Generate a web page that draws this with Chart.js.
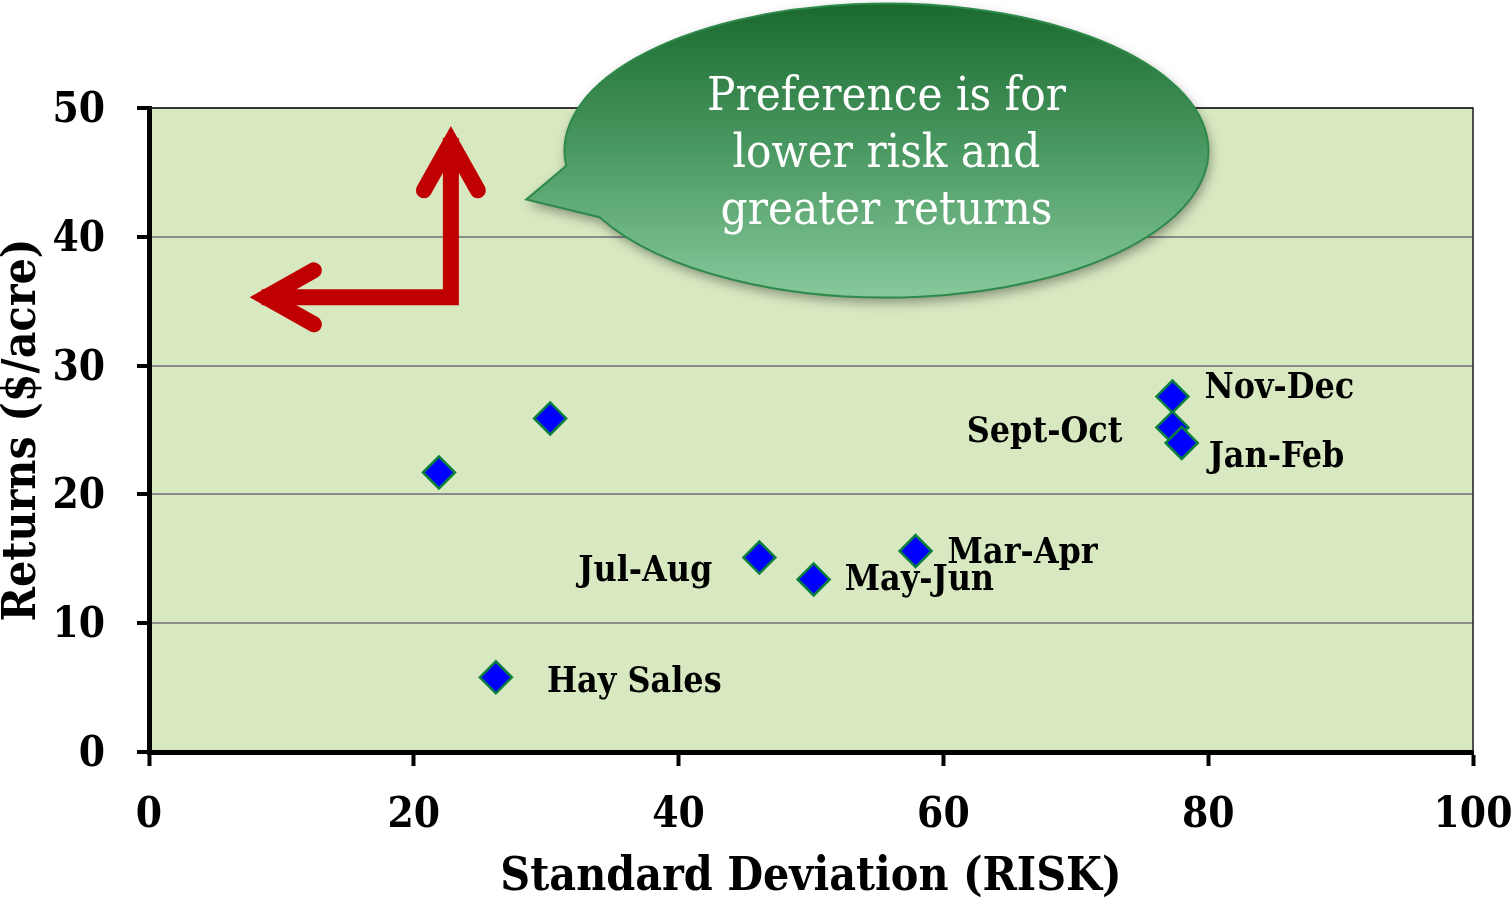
<!DOCTYPE html>
<html>
<head>
<meta charset="utf-8">
<title>Risk vs Returns</title>
<script src="https://cdn.jsdelivr.net/npm/chart.js@4.4.1/dist/chart.umd.min.js"></script>
<style>
  html, body { margin: 0; padding: 0; background: #ffffff; overflow: hidden; }
  #wrap { width: 1512px; height: 901px; position: relative; }
  canvas { display: block; }
</style>
</head>
<body>
<div id="wrap"><canvas id="chart" width="1512" height="901"></canvas></div>
<script>
// ---- data ----
const pointNames = ['', '', 'Hay Sales', 'Jul-Aug', 'May-Jun', 'Mar-Apr', 'Nov-Dec', 'Sept-Oct', 'Jan-Feb'];
const riskSD = [21.9, 30.3, 26.2, 46.1, 50.2, 57.9, 77.3, 77.3, 78.0];
const returnsPerAcre = [21.7, 25.9, 5.8, 15.1, 13.4, 15.6, 27.6, 25.2, 24.0];
const xTickValues = [0, 20, 40, 60, 80, 100];
const yTickValues = [0, 10, 20, 30, 40, 50];
const xAxisTitle = 'Standard Deviation (RISK)';
const yAxisTitle = 'Returns ($/acre)';
const calloutLines = ['Preference is for', 'lower risk and', 'greater returns'];

// ---- label placement next to each marker (side, horizontal gap, baseline shift in px) ----
const labelPlacement = [
  null, null,
  { side: 'right', dx: 51, dy: 15 },
  { side: 'left',  dx: 47, dy: 23 },
  { side: 'right', dx: 31, dy: 11 },
  { side: 'right', dx: 32, dy: 12 },
  { side: 'right', dx: 32, dy: 1 },
  { side: 'left',  dx: 50, dy: 15 },
  { side: 'right', dx: 27, dy: 24 }
];

// ---- annotation geometry in data units ----
const arrowCorner = { x: 22.8, y: 35.3 };
const arrowUpTipY = 48.6;
const arrowLeftTipX = 7.6;
const calloutCenter = { x: 55.7, y: 46.7 };
const calloutTail = { x: 28.5, y: 42.9 };

const SERIF = "'DejaVu Serif Condensed', 'DejaVu Serif', serif";
const PLOT_FILL = '#d8e9c1';

const plotBackground = {
  id: 'plotBackground',
  beforeDraw(chart) {
    const { ctx, chartArea: a } = chart;
    ctx.save();
    ctx.fillStyle = PLOT_FILL;
    ctx.fillRect(a.left, a.top, a.right - a.left, a.bottom - a.top);
    ctx.restore();
  },
  afterDatasetsDraw(chart) {
    const { ctx, chartArea: a } = chart;
    ctx.save();
    ctx.strokeStyle = '#1a1a1a';
    ctx.lineWidth = 1.5;
    ctx.beginPath();
    ctx.moveTo(a.left, a.top);
    ctx.lineTo(a.right, a.top);
    ctx.lineTo(a.right, a.bottom);
    ctx.stroke();
    ctx.restore();
  }
};

const markerLabels = {
  id: 'markerLabels',
  afterDatasetsDraw(chart) {
    const { ctx } = chart;
    const meta = chart.getDatasetMeta(0);
    ctx.save();
    ctx.fillStyle = '#000';
    ctx.font = 'bold 35.5px ' + SERIF;
    ctx.textBaseline = 'alphabetic';
    meta.data.forEach((pt, i) => {
      const name = pointNames[i];
      const p = labelPlacement[i];
      if (!name || !p) return;
      if (p.side === 'right') {
        ctx.textAlign = 'left';
        ctx.fillText(name, pt.x + p.dx, pt.y + p.dy);
      } else {
        ctx.textAlign = 'right';
        ctx.fillText(name, pt.x - p.dx, pt.y + p.dy);
      }
    });
    ctx.restore();
  }
};

function drawArrowHead(ctx, tx, ty, dirX, dirY, len, half, lw) {
  // head made of two stroked barbs meeting at a mitred point
  const sinHalf = half / Math.hypot(len, half);
  const back = (lw / 2) / sinHalf;
  const ax = tx - dirX * back, ay = ty - dirY * back;
  const px = -dirY, py = dirX;
  ctx.beginPath();
  ctx.moveTo(ax - dirX * len + px * half, ay - dirY * len + py * half);
  ctx.lineTo(ax, ay);
  ctx.lineTo(ax - dirX * len - px * half, ay - dirY * len - py * half);
  ctx.stroke();
}

const annotations = {
  id: 'annotations',
  afterDraw(chart) {
    const { ctx, scales: { x, y } } = chart;
    ctx.save();

    // red L-shaped arrow: toward lower risk and higher returns
    const cx = x.getPixelForValue(arrowCorner.x);
    const cy = y.getPixelForValue(arrowCorner.y);
    const upY = y.getPixelForValue(arrowUpTipY);
    const leftX = x.getPixelForValue(arrowLeftTipX);
    const lw = 16;
    ctx.strokeStyle = '#c00000';
    ctx.lineWidth = lw;
    ctx.lineJoin = 'miter';
    ctx.miterLimit = 10;
    ctx.lineCap = 'butt';
    ctx.beginPath();
    ctx.moveTo(leftX + 12, cy);
    ctx.lineTo(cx, cy);
    ctx.lineTo(cx, upY + 12);
    ctx.stroke();
    ctx.lineCap = 'round';
    drawArrowHead(ctx, cx, upY, 0, -1, 48, 27, lw);
    drawArrowHead(ctx, leftX, cy, -1, 0, 48, 27, lw);

    // speech bubble
    const ex = x.getPixelForValue(calloutCenter.x);
    const ey = y.getPixelForValue(calloutCenter.y);
    const rx = 322, ry = 147;
    const tx = x.getPixelForValue(calloutTail.x);
    const ty = y.getPixelForValue(calloutTail.y);
    const a0 = 174 * Math.PI / 180;
    const a1 = (153 + 360) * Math.PI / 180;
    ctx.beginPath();
    ctx.ellipse(ex, ey, rx, ry, 0, a0, a1, false);
    ctx.lineTo(tx, ty);
    ctx.closePath();
    const grad = ctx.createLinearGradient(0, ey - ry, 0, ey + ry);
    grad.addColorStop(0, '#1a6a2f');
    grad.addColorStop(0.5, '#4b9962');
    grad.addColorStop(1, '#86c99b');
    ctx.save();
    ctx.shadowColor = 'rgba(0,0,0,0.38)';
    ctx.shadowBlur = 12;
    ctx.shadowOffsetX = 2;
    ctx.shadowOffsetY = 5;
    ctx.fillStyle = grad;
    ctx.fill();
    ctx.restore();
    ctx.lineWidth = 2;
    ctx.strokeStyle = '#2e8a4a';
    ctx.lineJoin = 'miter';
    ctx.stroke();

    ctx.fillStyle = '#ffffff';
    ctx.font = '47px ' + SERIF;
    ctx.textAlign = 'center';
    ctx.textBaseline = 'alphabetic';
    const baselineShift = [-41, 16, 73];
    calloutLines.forEach((t, i) => ctx.fillText(t, ex, ey + baselineShift[i]));

    ctx.restore();
  }
};

const tickFont = { family: SERIF, size: 42, weight: 'bold' };
const titleFont = { family: SERIF, size: 46, weight: 'bold', lineHeight: 1 };

new Chart(document.getElementById('chart'), {
  type: 'scatter',
  data: {
    datasets: [{
      data: riskSD.map((v, i) => ({ x: v, y: returnsPerAcre[i] })),
      pointStyle: 'rectRot',
      pointRadius: 16,
      pointHoverRadius: 16,
      backgroundColor: '#0000ff',
      borderColor: '#0b7f3d',
      borderWidth: 2.5
    }]
  },
  options: {
    responsive: false,
    animation: false,
    events: [],
    layout: { padding: { top: 108, right: 39, left: 0, bottom: 0 } },
    plugins: { legend: { display: false }, tooltip: { enabled: false } },
    scales: {
      x: {
        type: 'linear',
        min: 0, max: 100,
        afterBuildTicks: s => { s.ticks = xTickValues.map(v => ({ value: v })); },
        afterFit: s => { s.height = 149; s.paddingLeft = 0; s.paddingRight = 0; },
        grid: { drawOnChartArea: false, tickLength: 14, tickWidth: 4, tickColor: '#000' },
        border: { color: '#000', width: 5 },
        ticks: { color: '#000', padding: 25, font: tickFont, maxRotation: 0 },
        title: { display: true, text: xAxisTitle, color: '#000', font: titleFont, padding: { top: 0, bottom: 0 } }
      },
      y: {
        type: 'linear',
        min: 0, max: 50,
        afterBuildTicks: s => { s.ticks = yTickValues.map(v => ({ value: v })); },
        afterFit: s => { s.width = 149; s.paddingTop = 0; s.paddingBottom = 0; },
        grid: { color: '#8c8c8c', lineWidth: 2, tickLength: 12, tickWidth: 4, tickColor: '#000' },
        border: { color: '#000', width: 5 },
        ticks: { color: '#000', padding: 32, labelOffset: 3, font: tickFont },
        title: { display: true, text: yAxisTitle, color: '#000', font: titleFont, padding: { top: 0, bottom: 0 } }
      }
    }
  },
  plugins: [plotBackground, markerLabels, annotations]
});
</script>
</body>
</html>
